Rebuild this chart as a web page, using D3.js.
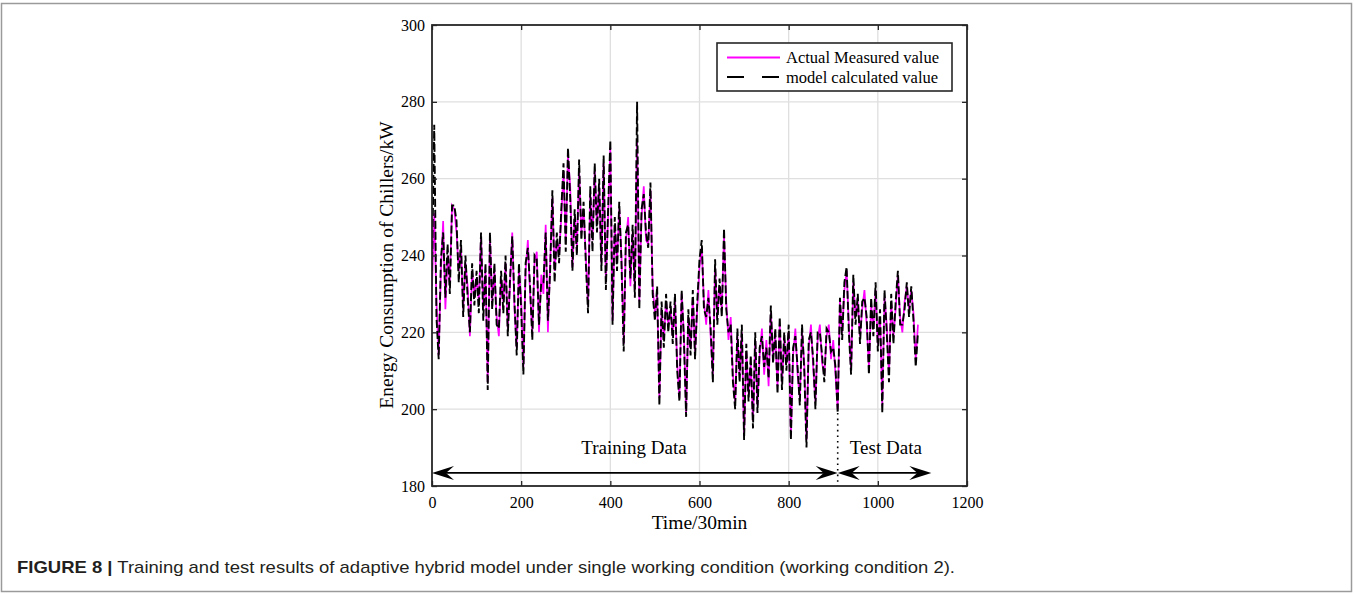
<!DOCTYPE html>
<html>
<head>
<meta charset="utf-8">
<script src="https://cdn.jsdelivr.net/npm/d3@7/dist/d3.min.js"></script>
<style>
  html, body { margin: 0; padding: 0; background: #fff; }
  svg { display: block; }
</style>
</head>
<body>
<svg id="chart" width="1354" height="594"></svg>
<script>
// ---------------- data ----------------
const sampleStep = 5;   // one stored value every 5 half-hour samples, starting at 0
const actualMeasured = [
  232,251,228,214,236,249,226,240,233,253,
  252,246,236,242,226,238,232,219,236,230,
  234,228,245,226,236,207,245,228,236,224,
  219,234,228,238,221,232,246,226,216,236,
  229,211,236,244,230,220,238,241,220,235,
  230,248,220,238,255,236,244,240,250,262,
  244,266,258,237,250,242,262,246,252,240,
  227,256,244,262,248,258,238,264,233,250,
  268,223,248,238,252,240,217,244,250,232,
  246,231,270,228,250,258,244,243,257,232,
  225,230,203,226,218,228,222,226,219,228,
  212,203,230,220,199,224,216,229,215,226,
  237,242,228,222,231,219,209,237,224,232,
  226,245,228,218,224,209,202,219,209,220,
  193,215,204,212,197,218,201,214,221,209,
  218,206,225,214,219,206,222,207,218,212,
  220,193,214,221,209,203,220,212,192,216,
  222,211,202,218,222,212,209,219,222,213,
  218,209,200,228,220,231,236,222,210,233,
  224,228,219,226,231,222,211,227,221,231,
  217,224,201,229,222,209,228,219,226,235,
  224,220,228,232,226,231,225,213,222
];
const modelCalculated = [
  236,274,224,213,239,246,229,243,230,253,
  253,249,233,244,224,240,229,220,238,227,
  236,225,246,223,238,205,246,226,238,222,
  221,236,225,240,219,234,245,228,214,238,
  226,209,238,242,232,218,240,239,222,233,
  233,246,223,236,257,233,246,238,252,264,
  241,268,255,236,252,240,265,244,254,238,
  225,258,241,264,246,260,236,266,231,252,
  270,222,250,236,254,238,215,246,248,234,
  248,229,280,226,252,256,246,242,259,230,
  223,232,201,228,216,230,220,228,217,230,
  210,202,231,218,198,226,214,231,213,228,
  239,244,226,224,229,221,207,239,222,234,
  224,247,226,220,222,207,200,221,207,222,
  192,217,202,214,195,220,199,216,219,211,
  216,208,227,212,221,204,224,205,220,210,
  222,192,216,219,211,201,222,210,190,218,
  220,213,200,220,220,214,207,221,220,215,
  216,211,199,229,218,233,237,220,209,235,
  222,230,217,228,229,224,209,229,219,233,
  215,226,199,231,220,207,230,217,228,236,
  222,222,226,233,224,232,223,211,220
];
const xTicks = [0, 200, 400, 600, 800, 1000, 1200];
const yTicks = [180, 200, 220, 240, 260, 280, 300];
const seriesNames = ["Actual Measured value", "model calculated value"];
const seriesColors = ["#ff00ff", "#000000"];
const splitTime = 910;        // training / test boundary
const splitTopValue = 199;    // dotted marker starts here
const arrowValue = 183.4;
const arrowEndTime = 1120;
const trainingLabelTime = 453, testLabelTime = 1018, regionLabelValue = 190;
const xLabel = "Time/30min";
const yLabel = "Energy Consumption of Chillers/kW";
const captionBold = "FIGURE 8 |";
const captionRest = " Training and test results of adaptive hybrid model under single working condition (working condition 2).";

// ---------------- layout ----------------
const SERIF = "'Liberation Serif', 'Times New Roman', Times, serif";
const svg = d3.select("#chart");
const L = 432, R = 967, T = 25, B = 486;
const x = d3.scaleLinear().domain([0, 1200]).range([L, R]);
const y = d3.scaleLinear().domain([180, 300]).range([B, T]);
const axisColor = "#262626";

// outer frame
svg.append("rect").attr("x", 1.5).attr("y", 3.5).attr("width", 1350).attr("height", 588)
  .attr("fill", "none").attr("stroke", "#9a9a9a").attr("stroke-width", 1.5);

// grid
const grid = svg.append("g");
grid.selectAll(".gx").data(xTicks.slice(1, -1)).join("line")
  .attr("x1", d => x(d)).attr("x2", d => x(d)).attr("y1", T).attr("y2", B)
  .attr("stroke", "#dfdfdf").attr("stroke-width", 1.3);
grid.selectAll(".gy").data(yTicks.slice(1, -1)).join("line")
  .attr("x1", L).attr("x2", R).attr("y1", d => y(d)).attr("y2", d => y(d))
  .attr("stroke", "#dfdfdf").attr("stroke-width", 1.3);

// clip
svg.append("defs").append("clipPath").attr("id", "plotClip")
  .append("rect").attr("x", L).attr("y", T).attr("width", R - L).attr("height", B - T);

const line = d3.line().x((d, i) => x(i * sampleStep)).y(d => y(d));
const plot = svg.append("g").attr("clip-path", "url(#plotClip)");
plot.append("path").datum(actualMeasured).attr("d", line)
  .attr("fill", "none").attr("stroke", seriesColors[0]).attr("stroke-width", 1.7);
plot.append("path").datum(modelCalculated).attr("d", line)
  .attr("fill", "none").attr("stroke", seriesColors[1]).attr("stroke-width", 1.9)
  .attr("stroke-dasharray", "8,3");

// annotations: dotted split line, arrows, labels
svg.append("line").attr("x1", x(splitTime)).attr("x2", x(splitTime))
  .attr("y1", y(splitTopValue)).attr("y2", B)
  .attr("stroke", "#000").attr("stroke-width", 1.6).attr("stroke-dasharray", "1.6,4");

function arrowHead(tipX, tipY, dir) {
  const len = 22, hw = 7, notch = 14;
  const p = [[tipX, tipY], [tipX - dir * len, tipY - hw], [tipX - dir * notch, tipY], [tipX - dir * len, tipY + hw]];
  svg.append("path").attr("d", "M" + p.map(q => q.join(",")).join("L") + "Z").attr("fill", "#000");
}
const ay = y(arrowValue);
svg.append("line").attr("x1", x(0) + 6).attr("x2", x(splitTime) - 6).attr("y1", ay).attr("y2", ay)
  .attr("stroke", "#000").attr("stroke-width", 1.8);
svg.append("line").attr("x1", x(splitTime) + 6).attr("x2", x(arrowEndTime) - 6).attr("y1", ay).attr("y2", ay)
  .attr("stroke", "#000").attr("stroke-width", 1.8);
arrowHead(x(0), ay, -1);
arrowHead(x(splitTime), ay, 1);
arrowHead(x(splitTime), ay, -1);
arrowHead(x(arrowEndTime), ay, 1);

svg.append("text").attr("font-family", SERIF).attr("x", x(trainingLabelTime)).attr("y", y(regionLabelValue))
  .attr("dy", "0.35em").attr("text-anchor", "middle").attr("font-size", 19).attr("fill", "#000")
  .text("Training Data");
svg.append("text").attr("font-family", SERIF).attr("x", x(testLabelTime)).attr("y", y(regionLabelValue))
  .attr("dy", "0.35em").attr("text-anchor", "middle").attr("font-size", 19).attr("fill", "#000")
  .text("Test Data");

// axes (ticks inside, on all four sides)
function styleAxis(g) {
  g.attr("font-family", SERIF).attr("font-size", 16);
  g.select(".domain").remove();
  g.selectAll(".tick line").attr("stroke", axisColor).attr("stroke-width", 1.3);
  g.selectAll(".tick text").attr("fill", "#000")
    .style("font-family", SERIF).style("font-size", "16px");
}
const fmt = d3.format("d");
svg.append("g").attr("transform", `translate(0,${B})`)
  .call(d3.axisBottom(x).tickValues(xTicks).tickFormat(fmt).tickSizeInner(-5).tickSizeOuter(0).tickPadding(11))
  .call(styleAxis);
svg.append("g").attr("transform", `translate(0,${T})`)
  .call(d3.axisTop(x).tickValues(xTicks).tickSizeInner(-5).tickSizeOuter(0).tickFormat(""))
  .call(styleAxis);
svg.append("g").attr("transform", `translate(${L},0)`)
  .call(d3.axisLeft(y).tickValues(yTicks).tickFormat(fmt).tickSizeInner(-5).tickSizeOuter(0).tickPadding(7))
  .call(styleAxis);
svg.append("g").attr("transform", `translate(${R},0)`)
  .call(d3.axisRight(y).tickValues(yTicks).tickSizeInner(-5).tickSizeOuter(0).tickFormat(""))
  .call(styleAxis);

svg.append("rect").attr("x", L).attr("y", T).attr("width", R - L).attr("height", B - T)
  .attr("fill", "none").attr("stroke", axisColor).attr("stroke-width", 1.8);

// axis labels
svg.append("text").attr("font-family", SERIF).attr("x", (L + R) / 2).attr("y", 529)
  .attr("text-anchor", "middle").attr("font-size", 19.5).attr("fill", "#000").text(xLabel);
svg.append("text").attr("font-family", SERIF).attr("transform", "translate(386,265) rotate(-90)")
  .attr("dy", "0.35em").attr("text-anchor", "middle").attr("font-size", 19.5).attr("fill", "#000").text(yLabel);

// legend
const lg = svg.append("g");
lg.append("rect").attr("x", 717).attr("y", 43).attr("width", 235).attr("height", 48)
  .attr("fill", "#fff").attr("stroke", axisColor).attr("stroke-width", 1.6);
const rowsY = [57.5, 77];
seriesNames.forEach((name, i) => {
  lg.append("line").attr("x1", 727).attr("x2", 780).attr("y1", rowsY[i]).attr("y2", rowsY[i])
    .attr("stroke", seriesColors[i]).attr("stroke-width", 2)
    .attr("stroke-dasharray", i === 1 ? "17,18" : null);
  lg.append("text").attr("font-family", SERIF).attr("x", 786).attr("y", rowsY[i]).attr("dy", "0.35em")
    .attr("font-size", 16.5).attr("fill", "#000").text(name);
});

// caption
const cap = svg.append("text").attr("x", 17).attr("y", 573)
  .attr("font-family", "'Liberation Sans', Arial, Helvetica, sans-serif").attr("font-size", 17)
  .attr("textLength", 938).attr("lengthAdjust", "spacingAndGlyphs").attr("fill", "#231f20");
cap.append("tspan").attr("font-weight", "bold").text(captionBold);
cap.append("tspan").text(captionRest);
</script>
</body>
</html>
